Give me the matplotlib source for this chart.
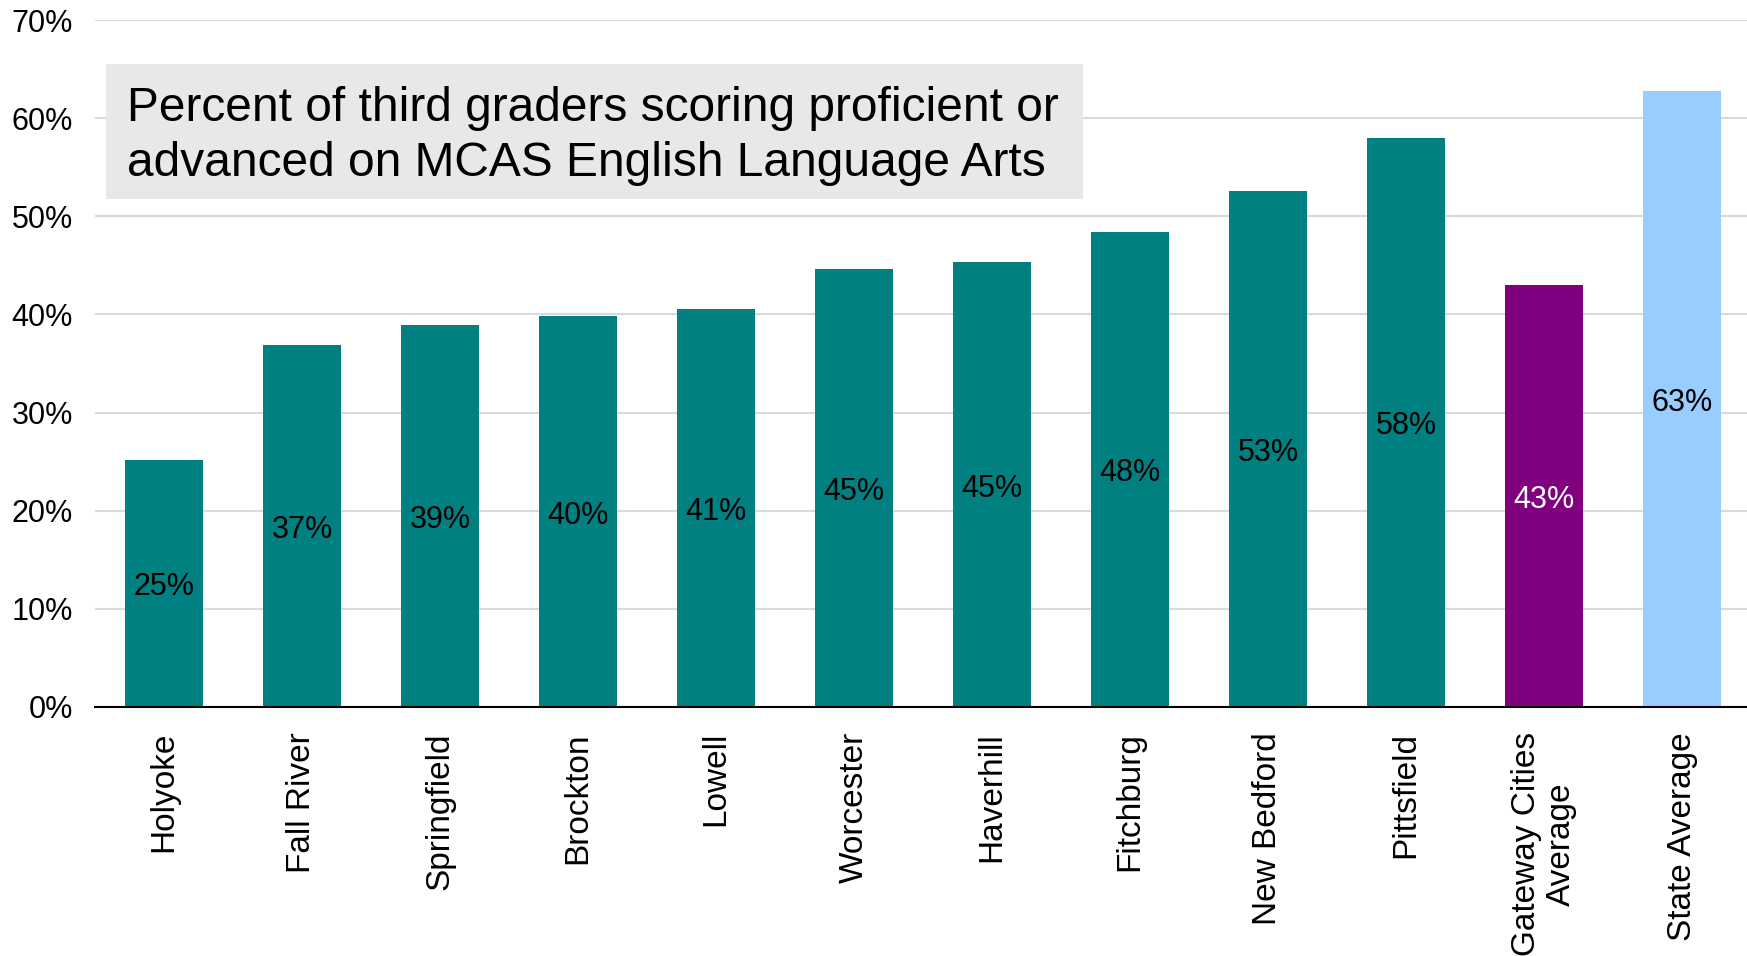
import matplotlib
matplotlib.use("Agg")
import matplotlib.pyplot as plt
from matplotlib.patches import Rectangle
from matplotlib.ticker import FuncFormatter

plt.rcParams['font.family'] = ['Liberation Sans', 'DejaVu Sans']

categories = ["Holyoke", "Fall River", "Springfield", "Brockton", "Lowell", "Worcester",
              "Haverhill", "Fitchburg", "New Bedford", "Pittsfield",
              "Gateway Cities\nAverage", "State Average"]
values = [25.2, 36.9, 38.9, 39.8, 40.6, 44.6, 45.3, 48.4, 52.6, 58.0, 43.0, 62.8]
labels = ["25%", "37%", "39%", "40%", "41%", "45%", "45%", "48%", "53%", "58%", "43%", "63%"]
bar_colors = ["#008080"] * 10 + ["#800080", "#99ccff"]
label_colors = ["black"] * 10 + ["white", "black"]
yticks = [0, 10, 20, 30, 40, 50, 60, 70]
title = "Percent of third graders scoring proficient or\nadvanced on MCAS English Language Arts"

W, H = 1747, 956
fig = plt.figure(figsize=(W / 100, H / 100), dpi=100)
ax = fig.add_axes([95 / W, 1 - 707 / H, (1751 - 95) / W, (707 - 20) / H])

x = list(range(len(categories)))
bars = ax.bar(x, values, width=0.57, color=bar_colors, zorder=3)
for xi, v, lab, c in zip(x, values, labels, label_colors):
    ax.text(xi, v / 2 - 0.4, lab, ha='center', va='center', fontsize=22, color=c, zorder=4)

ax.set_xlim(-0.5, len(categories) - 0.5)
ax.set_ylim(0, 70)
ax.set_yticks(yticks)
ax.yaxis.set_major_formatter(FuncFormatter(lambda v, p: f"{int(v)}%"))
ax.set_xticks(x)
ax.set_xticklabels(categories, rotation=90, fontsize=24, multialignment='center')
ax.tick_params(axis='y', length=0, labelsize=22, pad=16)
ax.tick_params(axis='x', length=0, pad=18)
ax.grid(axis='y', color='#d9d9d9', linewidth=1.5, zorder=0)
for s in ['left', 'right', 'top']:
    ax.spines[s].set_visible(False)
ax.spines['bottom'].set_color('black')
ax.spines['bottom'].set_linewidth(1.5)
ax.spines['bottom'].set_zorder(5)

# title box
fig.add_artist(Rectangle((106 / W, 1 - 199 / H), (1083 - 106) / W, (199 - 64) / H,
                         transform=fig.transFigure, facecolor='#e8e8e8', edgecolor='none', zorder=6))
fig.text(127 / W, 1 - 136 / H, title, ha='left', va='center', fontsize=34.5,
         linespacing=1.27, color='black', zorder=7)

fig.savefig("out.png", dpi=100)
